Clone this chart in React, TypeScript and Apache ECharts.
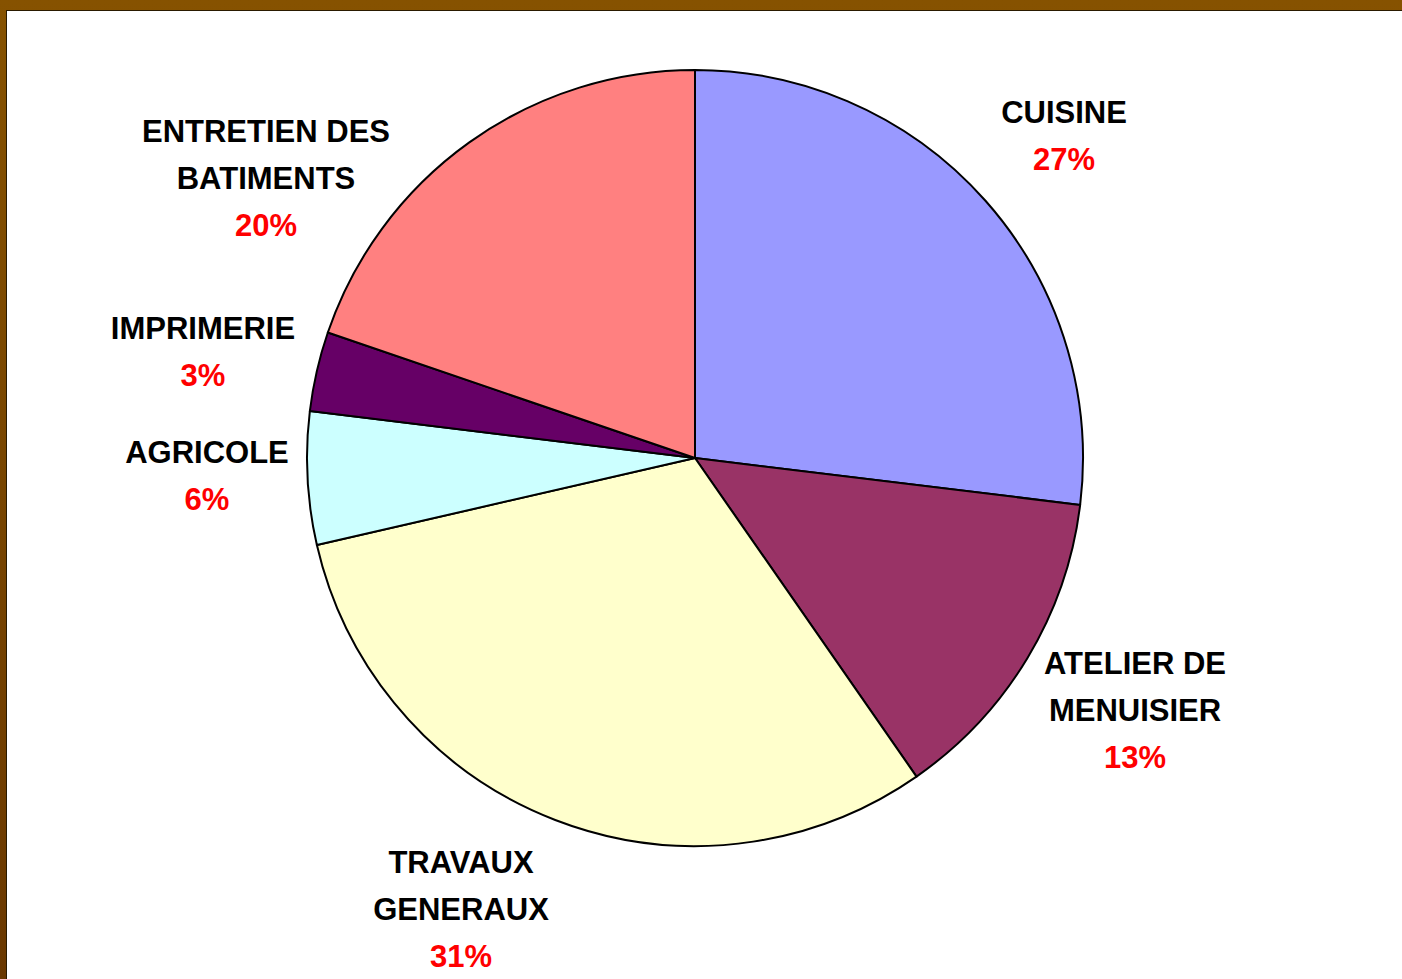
import React, { useEffect, useRef } from "react";
import * as echarts from "echarts";

const categories = [
  "CUISINE",
  "ATELIER DE\nMENUISIER",
  "TRAVAUX\nGENERAUX",
  "AGRICOLE",
  "IMPRIMERIE",
  "ENTRETIEN DES\nBATIMENTS",
];
const values = [26.93, 13.4, 31.07, 5.53, 3.31, 19.76];
const colors = ["#9999FF", "#993366", "#FFFFCC", "#CCFFFF", "#660066", "#FF8080"];
// label block centres (page px)
const labelCenters = [
  [1064, 136],
  [1135, 710],
  [461, 909],
  [207, 476],
  [203, 352],
  [266, 178],
];

export default function App() {
  const ref = useRef<HTMLDivElement>(null);
  useEffect(() => {
    if (!ref.current) return;
    const chart = echarts.init(ref.current, null, { renderer: "svg" });
    chart.setOption({
      animation: false,
      backgroundColor: "transparent",
      series: [
        {
          type: "pie",
          center: [695, 458],
          radius: 388,
          startAngle: 90,
          clockwise: true,
          percentPrecision: 0,
          data: categories.map((name, i) => ({
            name,
            value: values[i],
            itemStyle: { color: colors[i] },
          })),
          itemStyle: { borderColor: "#000", borderWidth: 2 },
          label: {
            show: true,
            position: "outside",
            align: "center",
            verticalAlign: "middle",
            formatter: (p: any) => {
              const lines = String(p.name)
                .split("\n")
                .map((l: string) => `{n|${l}}`)
                .join("\n");
              return `${lines}\n{p|${Math.round(p.percent)}%}`;
            },
            rich: {
              n: {
                fontFamily: "Liberation Sans, Arial, sans-serif",
                fontWeight: "bold",
                fontSize: 31,
                color: "#000",
                lineHeight: 47,
                align: "center",
              },
              p: {
                fontFamily: "Liberation Sans, Arial, sans-serif",
                fontWeight: "bold",
                fontSize: 31,
                color: "#FF0000",
                lineHeight: 47,
                align: "center",
              },
            },
          },
          labelLine: { show: false },
          labelLayout: (params: any) => {
            const c = labelCenters[params.dataIndex];
            return { x: c[0], y: c[1], align: "center", verticalAlign: "middle", moveOverlap: false };
          },
          emphasis: { disabled: true },
        },
      ],
    });
    return () => chart.dispose();
  }, []);

  return (
    <div
      style={{
        position: "fixed",
        left: 0,
        top: 0,
        width: 1402,
        height: 979,
        background: "linear-gradient(#865200, #6a3800)",
        overflow: "hidden",
      }}
    >
      <div
        style={{
          position: "absolute",
          left: 6,
          top: 10,
          right: 0,
          bottom: 0,
          background: "#fff",
          borderTop: "1px solid #2a1a00",
          borderLeft: "1px solid #2a1a00",
        }}
      />
      <div ref={ref} style={{ position: "absolute", left: 0, top: 0, width: 1402, height: 979 }} />
    </div>
  );
}
